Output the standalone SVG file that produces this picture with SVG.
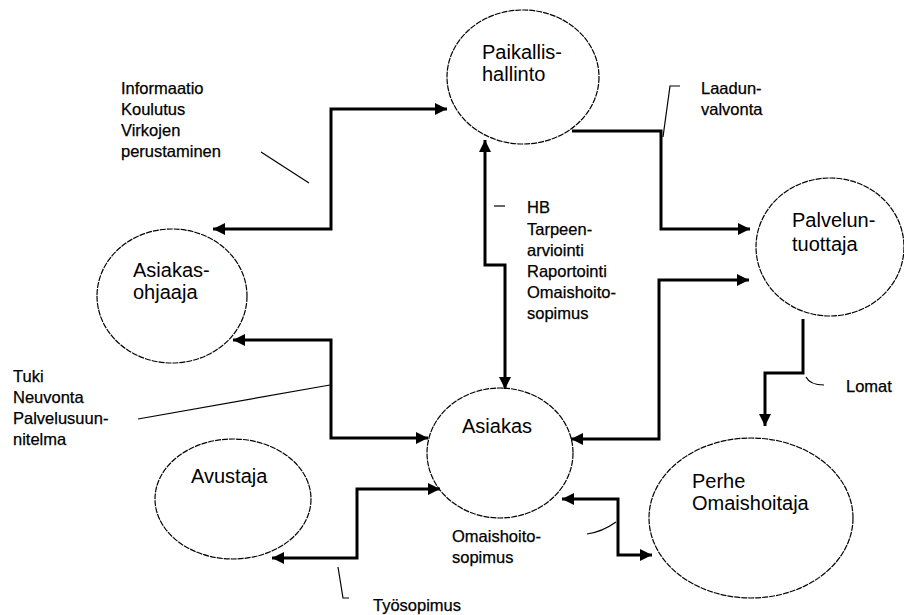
<svg xmlns="http://www.w3.org/2000/svg" width="904" height="615" viewBox="0 0 904 615">
<style>
.node{fill:none;stroke:#000;stroke-width:1.2;stroke-dasharray:6 1}
.nt{font-family:"Liberation Sans",Arial,sans-serif;font-size:20px;fill:#000}
.lt{font-family:"Liberation Sans",Arial,sans-serif;font-size:16.5px;fill:#000;stroke:#000;stroke-width:0.25}
.con{fill:none;stroke:#000;stroke-width:3}
.lead{fill:none;stroke:#000;stroke-width:1.2}
</style>
<defs>
<marker id="ah" markerUnits="userSpaceOnUse" markerWidth="13" markerHeight="13" refX="12" refY="6" orient="auto-start-reverse">
<path d="M0,0 L12,6 L0,12 z" fill="#000"/>
</marker>
</defs>
<rect width="904" height="615" fill="#fff"/>
<g id="paikallishallinto">
<ellipse class="node" cx="523" cy="77" rx="76" ry="67"/>
<text class="nt" x="482" y="59">Paikallis-</text>
<text class="nt" x="482" y="81">hallinto</text>
</g>
<g id="asiakasohjaaja">
<ellipse class="node" cx="172" cy="296" rx="75" ry="67"/>
<text class="nt" x="133" y="277">Asiakas-</text>
<text class="nt" x="133" y="299">ohjaaja</text>
</g>
<g id="avustaja">
<ellipse class="node" cx="233" cy="499" rx="78" ry="60"/>
<text class="nt" x="191" y="483">Avustaja</text>
</g>
<g id="asiakas">
<ellipse class="node" cx="500" cy="453" rx="73" ry="65"/>
<text class="nt" x="462" y="433">Asiakas</text>
</g>
<g id="palveluntuottaja">
<ellipse class="node" cx="830" cy="247" rx="74" ry="69"/>
<text class="nt" x="792" y="227">Palvelun-</text>
<text class="nt" x="792" y="251">tuottaja</text>
</g>
<g id="perhe">
<ellipse class="node" cx="751" cy="518" rx="102" ry="80"/>
<text class="nt" x="692" y="488">Perhe</text>
<text class="nt" x="692" y="510">Omaishoitaja</text>
</g>
<g id="connectors">
<path class="con" d="M213,229 H331 V109 H447" marker-start="url(#ah)" marker-end="url(#ah)"/>
<path class="con" d="M233,340 H331 V438 H428" marker-start="url(#ah)" marker-end="url(#ah)"/>
<path class="con" d="M272,558 H357 V489 H440" marker-start="url(#ah)" marker-end="url(#ah)"/>
<path class="con" d="M485,140 V265 H505 V389" marker-start="url(#ah)" marker-end="url(#ah)"/>
<path class="con" d="M572,131 H661 V229 H750" marker-end="url(#ah)"/>
<path class="con" d="M571,439 H659 V280 H749" marker-start="url(#ah)" marker-end="url(#ah)"/>
<path class="con" d="M803,319 V373 H765 V426" marker-end="url(#ah)"/>
<path class="con" d="M562,499 H618 V555 H652" marker-start="url(#ah)" marker-end="url(#ah)"/>
<path class="lead" d="M261,152 L309,183"/>
<path class="lead" d="M138,419 L330,385"/>
<path class="lead" d="M338,567 L343,598 H349"/>
<path class="lead" d="M494,206 H505"/>
<path class="lead" d="M663,137 L670,86 H680"/>
<path class="lead" d="M806,377 Q810,385 824,385"/>
<path class="lead" d="M587,534 Q602,532 616,522"/>
</g>
<g id="labels">
<text class="lt" x="121" y="94">Informaatio</text>
<text class="lt" x="121" y="115">Koulutus</text>
<text class="lt" x="121" y="136">Virkojen</text>
<text class="lt" x="121" y="157">perustaminen</text>
<text class="lt" x="13" y="382">Tuki</text>
<text class="lt" x="13" y="403">Neuvonta</text>
<text class="lt" x="13" y="424">Palvelusuun-</text>
<text class="lt" x="13" y="445">nitelma</text>
<text class="lt" x="527" y="213">HB</text>
<text class="lt" x="527" y="235">Tarpeen-</text>
<text class="lt" x="527" y="256">arviointi</text>
<text class="lt" x="527" y="277">Raportointi</text>
<text class="lt" x="527" y="298">Omaishoito-</text>
<text class="lt" x="527" y="319">sopimus</text>
<text class="lt" x="701" y="94">Laadun-</text>
<text class="lt" x="701" y="115">valvonta</text>
<text class="lt" x="846" y="392">Lomat</text>
<text class="lt" x="452" y="542">Omaishoito-</text>
<text class="lt" x="452" y="563">sopimus</text>
<text class="lt" x="373" y="611">Työsopimus</text>
</g>
</svg>
